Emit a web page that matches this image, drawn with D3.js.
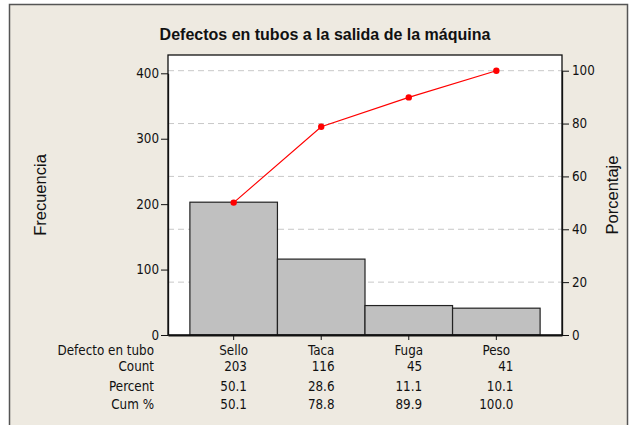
<!DOCTYPE html>
<html>
<head>
<meta charset="utf-8">
<script src="https://cdn.jsdelivr.net/npm/d3@7"></script>
<style>
  body { margin: 0; background: #fff; }
  svg text { font-family: "Liberation Sans", Arial, sans-serif; fill: #111; }
  svg .tahoma { font-family: "DejaVu Sans Condensed", "DejaVu Sans", Verdana, sans-serif; font-stretch: condensed; }
</style>
</head>
<body>
<div id="chart"></div>
<script>
// data
var categories = ["Sello", "Taca", "Fuga", "Peso"];
var counts = [203, 116, 45, 41];
var percents = ["50.1", "28.6", "11.1", "10.1"];
var cumPercents = [50.1, 78.8, 89.9, 100.0];
var countTicks = [0, 100, 200, 300, 400];
var pctTicks = [0, 20, 40, 60, 80, 100];

var W = 633, H = 425;
var plot = {left: 168, right: 562, top: 55, bottom: 335};
var smallFont = "13.3px";

var svg = d3.select("#chart").append("svg")
    .attr("width", W)
    .attr("height", H);

// beige frame
svg.append("rect")
    .attr("x", 9.5).attr("y", 4.5)
    .attr("width", 618).attr("height", 440)
    .attr("fill", "#EEEAE1")
    .attr("stroke", "#555")
    .attr("stroke-width", 1.5);

svg.append("rect")
    .attr("x", plot.left).attr("y", plot.top)
    .attr("width", plot.right - plot.left).attr("height", plot.bottom - plot.top)
    .attr("fill", "#fff");

var x = d3.scaleBand()
    .domain(categories)
    .range([plot.left, plot.right])
    .paddingInner(0)
    .paddingOuter(0.25);

var yCount = d3.scaleLinear().domain([0, 400]).range([plot.bottom, 73.3]);
var yPct = d3.scaleLinear().domain([0, 100]).range([plot.bottom, 70.7]);

// dashed gridlines from the percent axis
svg.append("g")
    .selectAll("line")
    .data(pctTicks.slice(1))
    .enter()
    .append("line")
    .attr("x1", plot.left).attr("x2", plot.right)
    .attr("y1", function (d) { return yPct(d); })
    .attr("y2", function (d) { return yPct(d); })
    .attr("stroke", "#c8c8c8")
    .attr("stroke-dasharray", "6,4");

// bars
svg.append("g")
    .selectAll("rect")
    .data(counts)
    .enter()
    .append("rect")
    .attr("x", function (d, i) { return x(categories[i]); })
    .attr("y", function (d) { return yCount(d); })
    .attr("width", x.bandwidth())
    .attr("height", function (d) { return plot.bottom - yCount(d); })
    .attr("fill", "#c0c0c0")
    .attr("stroke", "#222")
    .attr("stroke-width", 1.2);

// cumulative line
var line = d3.line()
    .x(function (d, i) { return x(categories[i]) + x.bandwidth() / 2; })
    .y(function (d) { return yPct(d); });

svg.append("path")
    .datum(cumPercents)
    .attr("d", line)
    .attr("fill", "none")
    .attr("stroke", "#ff0000")
    .attr("stroke-width", 1.2);

svg.append("g")
    .selectAll("circle")
    .data(cumPercents)
    .enter()
    .append("circle")
    .attr("cx", function (d, i) { return x(categories[i]) + x.bandwidth() / 2; })
    .attr("cy", function (d) { return yPct(d); })
    .attr("r", 3.2)
    .attr("fill", "#ff0000");

// plot border
svg.append("rect")
    .attr("x", plot.left).attr("y", plot.top)
    .attr("width", plot.right - plot.left).attr("height", plot.bottom - plot.top)
    .attr("fill", "none")
    .attr("stroke", "#111")
    .attr("stroke-width", 1.3);

// axes
var leftAxis = svg.append("g")
    .attr("transform", "translate(" + plot.left + ",0)")
    .call(d3.axisLeft(yCount).tickValues(countTicks).tickSize(7).tickSizeOuter(0));

var rightAxis = svg.append("g")
    .attr("transform", "translate(" + plot.right + ",0)")
    .call(d3.axisRight(yPct).tickValues(pctTicks).tickSize(7).tickSizeOuter(0));

var bottomAxis = svg.append("g")
    .attr("transform", "translate(0," + plot.bottom + ")")
    .call(d3.axisBottom(x).tickSize(5).tickSizeOuter(0).tickFormat(""));

[leftAxis, rightAxis, bottomAxis].forEach(function (a) {
    a.select(".domain").attr("stroke", "#111").attr("stroke-width", 1.3);
    a.selectAll(".tick line").attr("stroke", "#111");
    a.selectAll(".tick text")
        .attr("class", "tahoma")
        .style("font-size", smallFont)
        .attr("fill", "#111");
});
bottomAxis.select(".domain").attr("stroke-width", 2.2);
leftAxis.selectAll(".tick text").attr("x", -9);
rightAxis.selectAll(".tick text").attr("x", 10);

// titles
svg.append("text")
    .attr("x", 325).attr("y", 40)
    .attr("text-anchor", "middle")
    .style("font-size", "16px")
    .style("font-weight", "bold")
    .text("Defectos en tubos a la salida de la máquina");

svg.append("text")
    .attr("transform", "translate(46,195) rotate(-90)")
    .attr("text-anchor", "middle")
    .style("font-size", "16.5px")
    .text("Frecuencia");

svg.append("text")
    .attr("transform", "translate(618,195) rotate(-90)")
    .attr("text-anchor", "middle")
    .style("font-size", "16.5px")
    .text("Porcentaje");

// table under the axis
var rowLabels = ["Defecto en tubo", "Count", "Percent", "Cum %"];
var rowY = [354.5, 370.5, 390.5, 409];
var table = svg.append("g").attr("class", "tahoma").style("font-size", smallFont);

table.selectAll("text.rowlab")
    .data(rowLabels)
    .enter()
    .append("text")
    .attr("class", "rowlab tahoma")
    .attr("x", 154)
    .attr("y", function (d, i) { return rowY[i]; })
    .attr("text-anchor", "end")
    .text(function (d) { return d; });

categories.forEach(function (c, i) {
    var cx = x(c) + x.bandwidth() / 2;
    table.append("text")
        .attr("class", "tahoma")
        .attr("x", cx).attr("y", rowY[0])
        .attr("text-anchor", "middle")
        .text(c);
    var vals = [String(counts[i]), percents[i], cumPercents[i].toFixed(1)];
    var nodes = vals.map(function (v, j) {
        return table.append("text")
            .attr("class", "tahoma")
            .attr("y", rowY[j + 1])
            .attr("text-anchor", "end")
            .text(v);
    });
    var maxW = d3.max(nodes, function (n) { return n.node().getComputedTextLength(); });
    nodes.forEach(function (n) { n.attr("x", cx + maxW / 2); });
});
</script>
</body>
</html>
